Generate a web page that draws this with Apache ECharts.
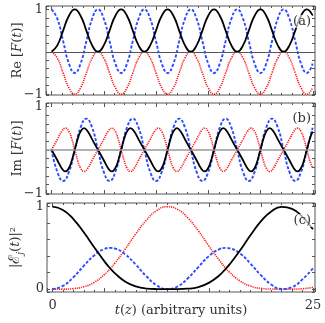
<!DOCTYPE html>
<html>
<head>
<meta charset="utf-8">
<script src="https://cdn.jsdelivr.net/npm/echarts@6/dist/echarts.min.js"></script>
<style>
html, body { margin: 0; padding: 0; background: #fff; }
#chart { width: 325px; height: 323px; }
</style>
</head>
<body>
<div id="chart"></div>
<script>
// fast oscillation (panels a, b), sampled every 1/8 period
var tFast = [0, 0.555, 1.11, 1.665, 2.22, 2.775, 3.33, 3.885, 4.44, 4.995,
  5.55, 6.105, 6.66, 7.215, 7.77, 8.325, 8.88, 9.435, 9.99, 10.545,
  11.1, 11.655, 12.21, 12.765, 13.32, 13.875, 14.43, 14.985, 15.54, 16.095,
  16.65, 17.205, 17.76, 18.315, 18.87, 19.425, 19.98, 20.535, 21.09, 21.645,
  22.2, 22.755, 23.31, 23.865, 24.42, 24.975];

var reBlack = [0, .15, .5, .85, 1, .85, .5, .15, 0, .15, .5, .85, 1, .85, .5, .15,
  0, .15, .5, .85, 1, .85, .5, .15, 0, .15, .5, .85, 1, .85, .5, .15,
  0, .15, .5, .85, 1, .85, .5, .15, 0, .15, .5, .85, 1, .85];
var reBlue = [1, .78, .25, -.28, -.5, -.28, .25, .78, 1, .78, .25, -.28, -.5, -.28, .25, .78,
  1, .78, .25, -.28, -.5, -.28, .25, .78, 1, .78, .25, -.28, -.5, -.28, .25, .78,
  1, .78, .25, -.28, -.5, -.28, .25, .78, 1, .78, .25, -.28, -.5, -.28];
var reRed = [0, -.15, -.5, -.85, -1, -.85, -.5, -.15, 0, -.15, -.5, -.85, -1, -.85, -.5, -.15,
  0, -.15, -.5, -.85, -1, -.85, -.5, -.15, 0, -.15, -.5, -.85, -1, -.85, -.5, -.15,
  0, -.15, -.5, -.85, -1, -.85, -.5, -.15, 0, -.15, -.5, -.85, -1, -.85];
var imBlue = [0, -.51, -.72, -.51, 0, .51, .72, .51, 0, -.51, -.72, -.51, 0, .51, .72, .51,
  0, -.51, -.72, -.51, 0, .51, .72, .51, 0, -.51, -.72, -.51, 0, .51, .72, .51,
  0, -.51, -.72, -.51, 0, .51, .72, .51, 0, -.51, -.72, -.51, 0, .51];

// skewed Im curves, read at their turning points
var tSkew = [0, .555, .987, 1.332, 1.665, 1.912, 2.22, 2.528, 2.775, 3.108, 3.453, 3.885,
  4.44, 4.995, 5.427, 5.772, 6.105, 6.352, 6.66, 6.968, 7.215, 7.548, 7.893, 8.325,
  8.88, 9.435, 9.867, 10.212, 10.545, 10.792, 11.1, 11.408, 11.655, 11.988, 12.333, 12.765,
  13.32, 13.875, 14.307, 14.652, 14.985, 15.232, 15.54, 15.848, 16.095, 16.428, 16.773, 17.205,
  17.76, 18.315, 18.747, 19.092, 19.425, 19.672, 19.98, 20.288, 20.535, 20.868, 21.213, 21.645,
  22.2, 22.755, 23.187, 23.532, 23.865, 24.112, 24.42, 24.728, 24.975];
var imBlack = [0, -.24, -.43, -.5, -.42, -.27, 0, .27, .42, .5, .43, .24,
  0, -.24, -.43, -.5, -.42, -.27, 0, .27, .42, .5, .43, .24,
  0, -.24, -.43, -.5, -.42, -.27, 0, .27, .42, .5, .43, .24,
  0, -.24, -.43, -.5, -.42, -.27, 0, .27, .42, .5, .43, .24,
  0, -.24, -.43, -.5, -.42, -.27, 0, .27, .42, .5, .43, .24,
  0, -.24, -.43, -.5, -.42, -.27, 0, .27, .42];
var imRed = [0, .24, .43, .5, .42, .27, 0, -.27, -.42, -.5, -.43, -.24,
  0, .24, .43, .5, .42, .27, 0, -.27, -.42, -.5, -.43, -.24,
  0, .24, .43, .5, .42, .27, 0, -.27, -.42, -.5, -.43, -.24,
  0, .24, .43, .5, .42, .27, 0, -.27, -.42, -.5, -.43, -.24,
  0, .24, .43, .5, .42, .27, 0, -.27, -.42, -.5, -.43, -.24,
  0, .24, .43, .5, .42, .27, 0, -.27, -.42];

// slow envelope (panel c)
var tSlow = [0, 1, 2, 3, 4, 5, 5.55, 6, 7, 8, 9, 10, 11, 12, 13, 14, 15, 16, 16.65, 17, 18, 19, 20, 21, 22, 23, 24, 25];
var popBlack = [1, .96, .85, .689, .508, .334, .25, .191, .09, .032, .007, .001, 0, 0, .005, .025, .076,
  .166, .25, .3, .469, .653, .821, .943, .998, .974, .877, .726];
var popBlue = [0, .039, .144, .282, .409, .488, .5, .492, .42, .295, .157, .047, 0, .032, .132, .267, .399,
  .483, .5, .495, .432, .31, .17, .056, .002, .025, .119, .252];
var popRed = [0, 0, .006, .029, .082, .178, .25, .317, .49, .672, .835, .953, 1, .968, .863, .707, .526,
  .352, .25, .204, .099, .037, .009, .001, 0, 0, .004, .022];

// tick labels
var xTickLabels = [0, 25];
var abTickLabels = [-1, 1];
var cTickLabels = [0, 1];
var panelTags = ['(a)', '(b)', '(c)'];

var FONT = 'DejaVu Serif';
var FRAME = '#555';
var TXT = '#333';

function pairs(t, v) {
  return t.map(function (x, i) { return [x, v[i]]; });
}
function fmt(list) {
  return function (v) {
    for (var i = 0; i < list.length; i++) {
      if (Math.abs(v - list[i]) < 1e-6) return list[i] < 0 ? '\u2212' + Math.abs(list[i]) : String(list[i]);
    }
    return '';
  };
}

var grids = [
  { left: 46, right: 10, top: 6, height: 89 },
  { left: 46, right: 10, top: 103, height: 91 },
  { left: 46, right: 10, top: 203, height: 89 }
];
grids.forEach(function (g) { g.show = true; g.borderColor = FRAME; g.borderWidth = 1; });

var yRange = [[-1.02, 1.08], [-1.02, 1.08], [-0.035, 1.045]];
var ySplit = [10, 10, 5];

var xAxes = [], yAxes = [];
for (var gi = 0; gi < 3; gi++) {
  ['bottom', 'top'].forEach(function (pos) {
    var ax = {
      gridIndex: gi, type: 'value', position: pos, min: -0.53, max: 25.2, splitNumber: 5,
      axisLine: { show: false, onZero: false },
      axisTick: { inside: true, length: 4, lineStyle: { color: FRAME } },
      minorTick: { show: true, splitNumber: 5, length: 2, lineStyle: { color: FRAME } },
      splitLine: { show: false },
      axisLabel: { show: false }
    };
    if (gi === 2 && pos === 'bottom') {
      ax.axisLabel = { show: true, margin: 7, color: TXT, fontFamily: FONT, fontSize: 13,
        formatter: fmt(xTickLabels), showMinLabel: true, showMaxLabel: true };
      ax.name = '{i|t}({i|z}) (arbitrary units)';
      ax.nameLocation = 'middle';
      ax.nameGap = 12;
      ax.nameMoveOverlap = false;
      ax.nameTextStyle = { color: TXT, fontFamily: FONT, fontSize: 13,
        rich: { i: { fontStyle: 'italic', fontFamily: FONT, fontSize: 13, color: TXT } } };
    }
    xAxes.push(ax);
  });
  ['left', 'right'].forEach(function (pos) {
    var ax = {
      gridIndex: gi, type: 'value', position: pos, min: yRange[gi][0], max: yRange[gi][1],
      splitNumber: ySplit[gi],
      axisLine: { show: false, onZero: false },
      axisTick: { inside: true, length: 3, lineStyle: { color: FRAME } },
      splitLine: { show: false },
      axisLabel: { show: false }
    };
    if (pos === 'left') {
      ax.axisLabel = { show: true, margin: 3, color: TXT, fontFamily: FONT, fontSize: 13,
        formatter: fmt(gi === 2 ? cTickLabels : abTickLabels) };
      ax.nameLocation = 'middle';
      ax.nameGap = 22;
      ax.nameMoveOverlap = false;
      ax.nameTextStyle = { color: TXT, fontFamily: FONT, fontSize: 13,
        rich: {
          i: { fontStyle: 'italic', fontFamily: FONT, fontSize: 13, color: TXT },
          u: { fontFamily: FONT, fontSize: 13, color: TXT },
          e: { fontFamily: FONT, fontSize: 15, color: TXT },
          s: { fontStyle: 'italic', fontFamily: FONT, fontSize: 9, color: TXT, verticalAlign: 'bottom', lineHeight: 19 }
        } };
      ax.name = gi === 0 ? '{u|Re} [{i|F}({i|t})]' : gi === 1 ? '{u|Im} [{i|F}({i|t})]' : '|{e|\u2130}{s|j}({i|t})|\u00b2';
    }
    yAxes.push(ax);
  });
}

var styles = {
  black: { color: '#000', width: 1.8, type: 'solid' },
  blue: { color: '#2b4cff', width: 1.9, type: [3, 1.8] },
  red: { color: '#ff1a1a', width: 1.6, type: [1.2, 1] }
};

function line(gi, t, v, key, zero, zeroColor, zeroWidth) {
  var s = {
    type: 'line', xAxisIndex: gi * 2, yAxisIndex: gi * 2, data: pairs(t, v),
    smooth: true, showSymbol: false, symbol: 'none', silent: true,
    lineStyle: styles[key], z: key === 'black' ? 4 : 3
  };
  if (zero) {
    s.markLine = { silent: true, symbol: 'none', label: { show: false },
      lineStyle: { color: zeroColor, width: zeroWidth, type: 'solid' }, data: [{ yAxis: 0 }] };
  }
  return s;
}

var series = [
  line(0, tFast, reRed, 'red', true, '#555', 1),
  line(0, tFast, reBlue, 'blue'),
  line(0, tFast, reBlack, 'black'),
  line(1, tSkew, imRed, 'red', true, '#999', 1.5),
  line(1, tFast, imBlue, 'blue'),
  line(1, tSkew, imBlack, 'black'),
  line(2, tSlow, popRed, 'red'),
  line(2, tSlow, popBlue, 'blue'),
  line(2, tSlow, popBlack, 'black')
];

var tagTops = [15, 112, 214];
var titles = panelTags.map(function (txt, i) {
  return { text: txt, right: 13, top: tagTops[i], padding: [0, 1],
    backgroundColor: 'rgba(255,255,255,0.65)',
    textStyle: { fontFamily: FONT, fontSize: 13, fontWeight: 'normal', color: TXT } };
});

var chart = echarts.init(document.getElementById('chart'));
chart.setOption({
  animation: false,
  backgroundColor: '#fff',
  title: titles,
  grid: grids,
  xAxis: xAxes,
  yAxis: yAxes,
  series: series
});
</script>
</body>
</html>
